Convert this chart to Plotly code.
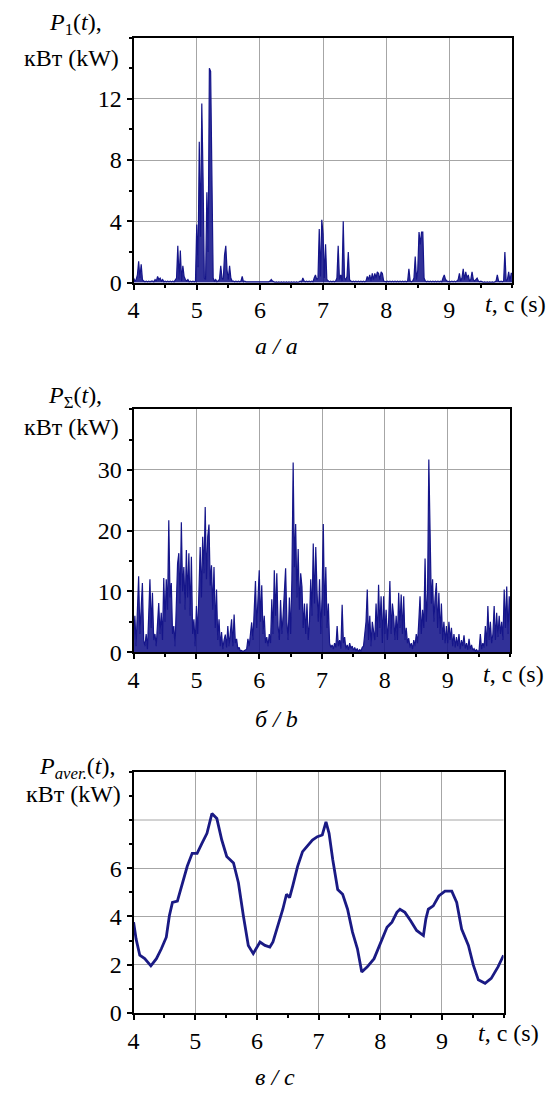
import plotly.graph_objects as go

# --- time base for the sampled power signals (s) ---
t_start = 4.0
t_step = 0.02

# P1(t), kW — one row per 0.2 s (10 samples each), last value at t = 10.0
p1_rows = [
    [0.3, 0.1, 0.2, 0.5, 1.4, 0.3, 1.2, 0.2, 0.1, 0.05],
    [0.1, 0.05, 0.1, 0.05, 0.1, 0.1, 0.05, 0.2, 0.1, 0.4],
    [0.2, 0.3, 0.1, 0.2, 0.05, 0.1, 0.05, 0.1, 0.05, 0.1],
    [0.05, 0.1, 0.05, 0.2, 0.3, 2.4, 0.2, 2.1, 0.1, 1.1],
    [0.4, 0.2, 0.1, 0.2, 0.05, 0.1, 0.05, 0.1, 0.05, 0.1],
    [3.8, 1.0, 9.2, 3.0, 11.7, 6.8, 0.3, 0.2, 5.9, 2.0],
    [14.0, 13.8, 8.1, 0.3, 0.1, 0.2, 0.05, 0.1, 0.2, 1.1],
    [0.3, 0.2, 1.8, 2.4, 0.8, 0.2, 1.1, 0.3, 0.1, 0.1],
    [0.05, 0.1, 0.05, 0.1, 0.05, 0.1, 0.4, 0.05, 0.1, 0.05],
    [0.05, 0.02, 0.05, 0.02, 0.05, 0.02, 0.05, 0.02, 0.05, 0.02],
    [0.02, 0.05, 0.02, 0.05, 0.02, 0.05, 0.02, 0.05, 0.1, 0.2],
    [0.1, 0.05, 0.02, 0.05, 0.02, 0.05, 0.02, 0.05, 0.02, 0.05],
    [0.02, 0.05, 0.02, 0.05, 0.02, 0.05, 0.02, 0.05, 0.02, 0.05],
    [0.02, 0.05, 0.1, 0.05, 0.3, 0.1, 0.05, 0.1, 0.05, 0.1],
    [0.05, 0.1, 0.05, 0.3, 0.5, 0.2, 0.3, 3.5, 0.4, 4.1],
    [3.2, 0.3, 2.5, 0.2, 0.1, 0.05, 0.1, 0.05, 0.1, 0.05],
    [0.1, 0.3, 2.4, 0.2, 0.5, 0.1, 4.0, 0.3, 0.2, 0.4],
    [2.0, 0.2, 0.1, 0.05, 0.1, 0.05, 0.1, 0.05, 0.1, 0.05],
    [0.1, 0.05, 0.1, 0.05, 0.1, 0.4, 0.2, 0.5, 0.1, 0.6],
    [0.2, 0.6, 0.3, 0.7, 0.6, 0.2, 0.7, 0.6, 0.1, 0.05],
    [0.05, 0.1, 0.05, 0.1, 0.05, 0.1, 0.05, 0.1, 0.05, 0.1],
    [0.05, 0.1, 0.05, 0.1, 0.05, 0.1, 0.05, 0.1, 0.9, 0.1],
    [0.05, 0.1, 0.3, 1.7, 0.2, 0.8, 3.3, 2.5, 3.3, 3.3],
    [0.3, 0.1, 0.05, 0.1, 0.05, 0.1, 0.05, 0.1, 0.05, 0.1],
    [0.05, 0.1, 0.05, 0.1, 0.05, 0.3, 0.5, 0.2, 0.1, 0.05],
    [0.1, 0.05, 0.1, 0.05, 0.1, 0.05, 0.1, 0.2, 0.6, 0.1],
    [0.3, 0.9, 0.2, 0.7, 0.3, 0.5, 0.1, 0.2, 0.7, 0.2],
    [0.1, 0.2, 0.3, 0.1, 0.05, 0.1, 0.05, 0.02, 0.05, 0.02],
    [0.05, 0.02, 0.05, 0.02, 0.05, 0.02, 0.05, 0.1, 0.5, 0.1],
    [0.05, 0.1, 0.05, 0.1, 2.0, 0.1, 0.2, 0.7, 0.1, 0.6],
]
p1_last = 0.6

# PΣ(t), kW — same sampling
psum_rows = [
    [2, 6, 1, 9, 12.5, 3, 8, 11.4, 2, 1],
    [3, 0.5, 6, 12, 4, 9.8, 2, 3, 1, 4],
    [8.1, 3, 6.5, 2, 12.2, 5, 12, 7, 21.7, 9],
    [11.4, 3, 4.3, 1, 10, 14.6, 16.3, 8, 21.4, 10],
    [14, 7, 16.8, 9, 16.3, 6, 15.7, 3, 5.4, 1],
    [7.6, 3, 10, 17.3, 9, 19, 13, 23.9, 12, 19],
    [21, 11, 14.3, 7, 14, 4, 10.3, 2, 5.4, 1],
    [3.3, 0.5, 2, 2.9, 0.8, 4.3, 1, 3, 5.4, 1],
    [6.2, 1.5, 2.2, 0.5, 0.8, 0.2, 0.3, 0.1, 0.2, 0.4],
    [0.5, 2.2, 1, 3, 4.9, 2, 8, 11.7, 4, 9.2],
    [13.5, 5, 11, 3, 6, 1.5, 2.5, 1, 3, 1.5],
    [8.7, 3, 13.5, 6, 13, 4.3, 2, 8.6, 3, 6],
    [10, 13.8, 5, 2, 9, 3, 12, 31.2, 14, 21.1],
    [9, 17, 7, 13, 10.8, 4, 8, 3, 8, 2],
    [5, 12, 6, 17.9, 8, 17.3, 10, 5, 12, 3],
    [9, 21.1, 6, 14, 4, 8, 1.5, 0.8, 1.2, 0.5],
    [1.5, 0.8, 4.3, 1, 2, 0.6, 7.8, 1.5, 2.5, 0.5],
    [1.2, 0.4, 1.5, 0.6, 1, 0.3, 0.8, 0.2, 0.6, 0.1],
    [0.4, 0.2, 0.8, 1, 3, 5, 10.3, 2, 6, 1],
    [5, 3, 2, 8, 2.5, 11.1, 4, 9.2, 1.5, 9.2],
    [3, 7, 2, 5, 11.7, 3, 8, 6, 2, 6],
    [2, 9.8, 4, 9.5, 3, 9.2, 2, 4, 1.5, 2.3],
    [0.8, 1.5, 0.5, 2, 1, 3, 1.5, 5, 9.2, 3],
    [7, 4, 15.4, 5, 10, 31.7, 20, 8, 12, 5],
    [9, 11.4, 4, 9.8, 3, 8, 2, 5, 1.5, 4.3],
    [1.5, 5, 2, 4, 1, 3, 0.8, 2.5, 1, 3],
    [0.5, 2, 1, 2.8, 0.6, 1.5, 0.4, 2.2, 0.5, 1.2],
    [0.3, 0.6, 0.2, 0.4, 0.1, 0.3, 3, 0.5, 1.5, 0.8],
    [4.3, 1, 7.6, 2, 5, 1.5, 3, 7.6, 2, 6.5],
    [2.5, 6, 3, 5, 2, 10.3, 4, 10.8, 3, 9.2],
]
psum_last = 5

# Paver.(t), kW — moving average
paver_t = [4.00, 4.04, 4.10, 4.18, 4.28, 4.37, 4.45, 4.53, 4.58, 4.63, 4.71,
           4.79, 4.87, 4.95, 5.03, 5.11, 5.19, 5.27, 5.35, 5.43, 5.51, 5.62,
           5.70, 5.78, 5.86, 5.94, 6.05, 6.13, 6.21, 6.26, 6.34, 6.42, 6.48,
           6.53, 6.58, 6.66, 6.74, 6.83, 6.90, 6.98, 7.06, 7.12, 7.17, 7.23,
           7.31, 7.39, 7.47, 7.55, 7.63, 7.70, 7.79, 7.90, 8.00, 8.11, 8.19,
           8.27, 8.32, 8.40, 8.49, 8.59, 8.70, 8.74, 8.78, 8.86, 8.95, 9.05,
           9.16, 9.24, 9.32, 9.43, 9.51, 9.59, 9.70, 9.80, 9.91, 10.00]
paver_v = [3.76, 3.07, 2.39, 2.25, 1.95, 2.25, 2.66, 3.14, 4.03, 4.58, 4.64,
           5.40, 6.08, 6.62, 6.62, 7.04, 7.45, 8.27, 8.06, 7.17, 6.49, 6.22,
           5.40, 4.03, 2.80, 2.46, 2.94, 2.80, 2.73, 2.94, 3.62, 4.30, 4.92,
           4.78, 5.26, 6.08, 6.69, 6.97, 7.17, 7.31, 7.38, 7.92, 7.45, 6.35,
           5.12, 4.92, 4.30, 3.35, 2.66, 1.70, 1.91, 2.25, 2.87, 3.55, 3.76,
           4.17, 4.30, 4.17, 3.83, 3.42, 3.21, 3.90, 4.30, 4.44, 4.85, 5.05,
           5.05, 4.58, 3.48, 2.80, 1.98, 1.37, 1.23, 1.43, 1.91, 2.39]

# axis ticks (labelled positions)
x_ticks = [4, 5, 6, 7, 8, 9]
y1_ticks = [0, 4, 8, 12]
y2_ticks = [0, 10, 20, 30]
y3_ticks = [0, 2, 4, 6]
y3_extra_grid = 8


def flatten(rows, last):
    vals = [v for row in rows for v in row] + [last]
    ts = [round(t_start + i * t_step, 2) for i in range(len(vals))]
    return ts, vals


t1, p1 = flatten(p1_rows, p1_last)
t2, psum = flatten(psum_rows, psum_last)

W, H = 555, 1102
FONT = "Liberation Serif"
FS = 24
NAVY = "#15158a"
NAVY_FILL = "rgba(21,21,138,0.88)"
GRID = "#a6a6a6"


def px_x(px):
    return px / W


def px_y(py):
    return 1 - py / H


fig = go.Figure()
fig.add_trace(go.Scatter(x=t1, y=p1, mode="lines", line=dict(color=NAVY, width=1.2),
                         fill="tozeroy", fillcolor=NAVY_FILL,
                         xaxis="x", yaxis="y", showlegend=False))
fig.add_trace(go.Scatter(x=t2, y=psum, mode="lines", line=dict(color=NAVY, width=1.2),
                         fill="tozeroy", fillcolor=NAVY_FILL,
                         xaxis="x2", yaxis="y2", showlegend=False))
fig.add_trace(go.Scatter(x=paver_t, y=paver_v, mode="lines",
                         line=dict(color="#1a1a84", width=2.8),
                         xaxis="x3", yaxis="y3", showlegend=False))


def xaxis(domain, anchor):
    return dict(domain=domain, anchor=anchor, range=[4, 10], tickmode="array",
                tickvals=x_ticks, showgrid=True, gridcolor=GRID,
                gridwidth=1, showline=True, linecolor="black", linewidth=2, mirror=True,
                ticks="outside", ticklen=5, tickwidth=1.5, tickcolor="black",
                minor=dict(dtick=0.5, ticks="outside", ticklen=3, tickcolor="black",
                           showgrid=False),
                zeroline=False, fixedrange=True,
                tickfont=dict(family=FONT, size=FS, color="black"))


def yaxis(domain, anchor, rng, vals, minor_step):
    return dict(domain=domain, anchor=anchor, range=rng, tickmode="array",
                tickvals=vals, showgrid=True, gridcolor=GRID,
                gridwidth=1, showline=True, linecolor="black", linewidth=2, mirror=True,
                ticks="outside", ticklen=5, tickwidth=1.5, tickcolor="black",
                minor=dict(dtick=minor_step, ticks="outside", ticklen=3,
                           tickcolor="black", showgrid=False),
                zeroline=False, fixedrange=True,
                tickfont=dict(family=FONT, size=FS, color="black"))


fig.update_layout(
    width=W, height=H,
    margin=dict(l=0, r=0, t=0, b=0),
    paper_bgcolor="white", plot_bgcolor="white",
    font=dict(family=FONT),
    xaxis=xaxis([px_x(129), px_x(512)], "y"),
    yaxis=yaxis([px_y(286), px_y(38)], "x", [0, 16], y1_ticks, 2),
    xaxis2=xaxis([px_x(129), px_x(510)], "y2"),
    yaxis2=yaxis([px_y(660), px_y(414)], "x2", [0, 40], y2_ticks, 5),
    xaxis3=xaxis([px_x(129), px_x(503)], "y3"),
    yaxis3=yaxis([px_y(1025), px_y(781)], "x3", [0, 10], y3_ticks, 1),
)

# unlabelled grid line of the averaged-power panel
fig.add_shape(type="line", xref="x3 domain", yref="y3", x0=0, x1=1,
              y0=y3_extra_grid, y1=y3_extra_grid, line=dict(color=GRID, width=1),
              layer="below")

texts = [
    # y-axis titles
    ("<i>P</i><sub>1</sub>(<i>t</i>),", 70, 24),
    ("кВт (kW)", 66, 59),
    ("<i>P</i><sub>Σ</sub>(<i>t</i>),", 70, 402),
    ("кВт (kW)", 66, 432),
    ("<i>P</i><sub><i>aver.</i></sub>(<i>t</i>),", 72, 777),
    ("кВт (kW)", 68, 803),
    # x-axis titles
    ("<i>t</i>, c (s)", 515, 308),
    ("<i>t</i>, c (s)", 513, 682),
    ("<i>t</i>, c (s)", 508, 1045),
    # panel captions
    ("<i>а / a</i>", 273, 350),
    ("<i>б / b</i>", 273, 728),
    ("<i>в / c</i>", 272, 1090),
]
for txt, x, y in texts:
    fig.add_annotation(text=txt, x=px_x(x), y=px_y(y), xref="paper", yref="paper",
                       xanchor="center", yanchor="middle", showarrow=False,
                       font=dict(family=FONT, size=FS, color="black"))

fig.write_html("out.html")
